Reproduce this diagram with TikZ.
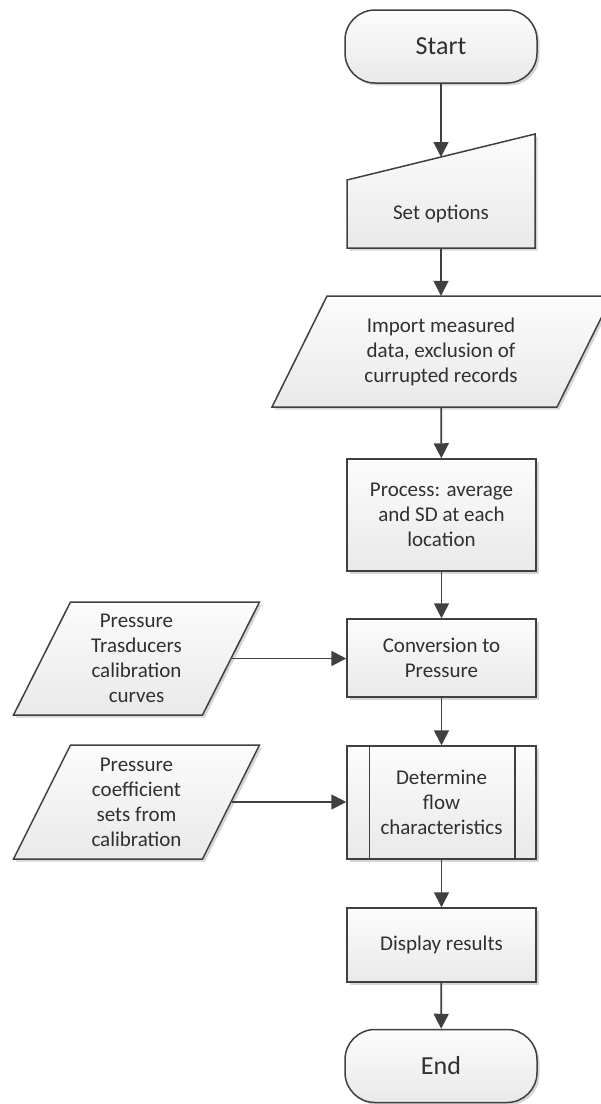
\documentclass[tikz,border=0pt]{standalone}
\usepackage{fontspec}
\setmainfont{Carlito}
\usetikzlibrary{arrows.meta,shadows}
\definecolor{linec}{HTML}{404040}
\definecolor{textc}{HTML}{303030}
\definecolor{filltop}{HTML}{FCFCFC}
\definecolor{fillbot}{HTML}{E9E9E9}
\definecolor{shadowc}{HTML}{D6D6D6}
\begin{document}
\begin{tikzpicture}[x=1pt,y=-1pt,
  shapefill/.style={draw=linec, line width=1.5pt, top color=filltop, bottom color=fillbot,
    general shadow={fill=shadowc, shadow xshift=2.5pt, shadow yshift=-2.5pt}},
  lbl/.style={font=\fontsize{21}{25}\selectfont, text=textc, align=center, inner sep=0pt},
  box/.style={shapefill, rectangle, minimum width=189pt, lbl},
  term/.style={shapefill, rectangle, rounded corners=30pt, minimum width=192pt,
    minimum height=73pt, font=\fontsize{26}{30}\selectfont, text=textc},
  ghost/.style={lbl, rectangle, minimum width=192pt},
  flow/.style={draw=linec, line width=1.7pt, -{Triangle[length=15pt,width=15pt]}},
]
\useasboundingbox (0,0) rectangle (601,1104);

% shapes drawn as paths: manual input, data parallelograms
\path[shapefill] (347,180) -- (535,134) -- (535,248) -- (347,248) -- cycle;
\path[shapefill] (327,296) -- (612,296) -- (557,407) -- (272,407) -- cycle;
\path[shapefill] (70.5,602) -- (259.5,602) -- (202.5,715) -- (13.5,715) -- cycle;
\path[shapefill] (70.5,745) -- (259.5,745) -- (202.5,859) -- (13.5,859) -- cycle;

% main column
\node[term] (start) at (441,46.5) {Start};
\node[ghost, minimum height=68pt] (setopt) at (441,214) {Set options};
\coordinate (setopt-in) at (441,157);
\node[ghost, minimum height=111pt] (import) at (441,351.5)
  {Import measured\\data, exclusion of\\currupted records};
\node[box, minimum height=112pt] (proc) at (441.5,515)
  {Process: average\\and SD at each\\location};
\node[box, minimum height=78pt] (conv) at (441.5,658) {Conversion to\\Pressure};
\node[box, minimum height=113pt] (det) at (441.5,802.5)
  {Determine\\flow\\characteristics};
\draw[linec, line width=1.5pt] ([xshift=23pt]det.north west) -- ([xshift=23pt]det.south west);
\draw[linec, line width=1.5pt] ([xshift=-22pt]det.north east) -- ([xshift=-22pt]det.south east);
\node[box, minimum height=74pt] (disp) at (441.5,945) {Display results};
\node[term] (stop) at (441,1066) {End};

% side inputs
\node[ghost, minimum width=190pt, minimum height=113pt] (ptc) at (136.5,658.5)
  {Pressure\\Trasducers\\calibration\\curves};
\node[ghost, minimum width=190pt, minimum height=114pt] (pcs) at (136.5,802)
  {Pressure\\coefficient\\sets from\\calibration};

% connectors
\draw[flow] (start) -- (setopt-in);
\draw[flow] (setopt) -- (import);
\draw[flow] (import) -- (proc);
\draw[flow] (proc) -- (conv);
\draw[flow] (conv) -- (det);
\draw[flow] (det) -- (disp);
\draw[flow] (disp) -- (stop);
\draw[flow] (ptc.east) -- (ptc.east -| conv.west);
\draw[flow] (pcs.east) -- (pcs.east -| det.west);
\end{tikzpicture}
\end{document}
